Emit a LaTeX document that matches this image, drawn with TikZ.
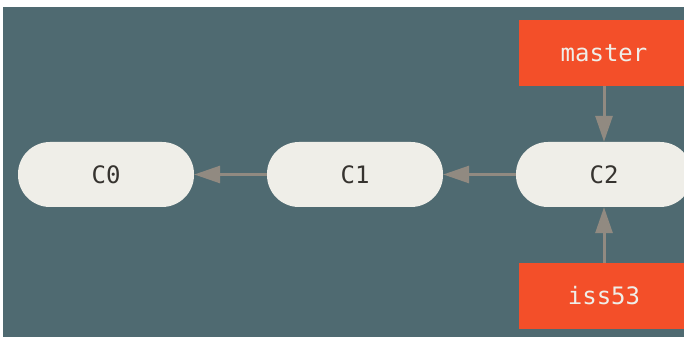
\documentclass[tikz,border=0pt]{standalone}
\usepackage{fontspec}
\setmonofont{DejaVu Sans Mono}
\usetikzlibrary{shapes.geometric, arrows.meta, positioning}
\definecolor{bgteal}{HTML}{4F6A71}
\definecolor{commitfill}{HTML}{EFEEE8}
\definecolor{branchred}{HTML}{F34F29}
\definecolor{arrowgray}{HTML}{918A81}
\definecolor{textgray}{HTML}{36332F}
\tikzstyle{commit} = [rectangle, rounded corners=32pt, minimum width=176pt, minimum height=65pt, text centered, fill=commitfill, text=textgray, font=\ttfamily\fontsize{24}{24}\selectfont]
\tikzstyle{branch} = [rectangle, minimum width=170pt, minimum height=66pt, text centered, fill=branchred, text=commitfill, font=\ttfamily\fontsize{24}{24}\selectfont]
\tikzstyle{arrow} = [line width=3pt, draw=arrowgray, -{Triangle[length=26pt,width=17pt,fill=arrowgray]}]

\begin{document}
\begin{tikzpicture}[x=1pt, y=1pt, node distance=249pt]
            \clip (0,0) rectangle (684,337);
            \fill [white] (0,0) rectangle (684,337);
            \fill [bgteal] (3,0) rectangle (684,330);

            \node (C2) [commit] at (604,162.5) {C2};
            \node (C1) [commit, left of=C2] {C1};
            \node (C0) [commit, left of=C1] {C0};
            \node (master) [branch, above of=C2, node distance=121.5pt] {master};
            \node (iss53) [branch, below of=C2, node distance=121.5pt] {iss53};

            \draw [arrow] (C1) -- (C0);
            \draw [arrow] (C2) -- (C1);
            \draw [arrow] (master) -- (C2);
            \draw [arrow] (iss53) -- (C2);
        \end{tikzpicture}
\end{document}
